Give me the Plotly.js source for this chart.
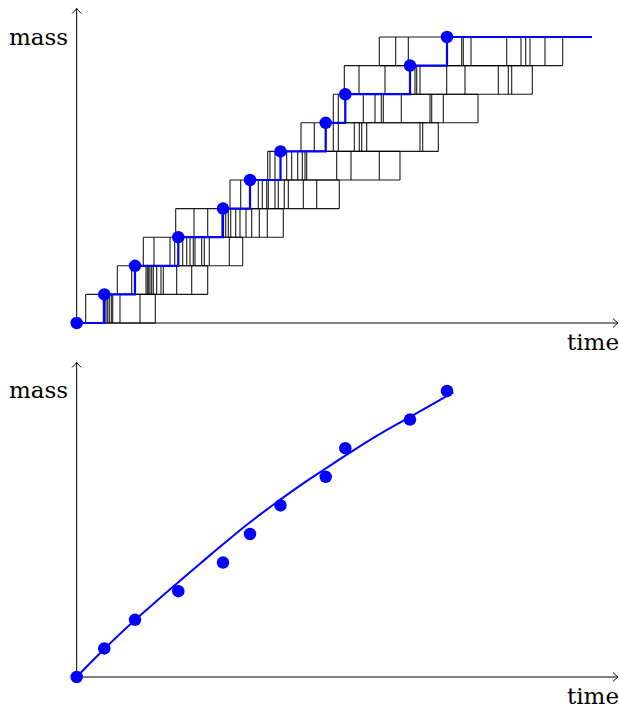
<!DOCTYPE html>
<html>
<head>
<meta charset="utf-8">
<script src="https://cdn.plot.ly/plotly-3.0.1.min.js"></script>
<style>html,body{margin:0;padding:0;background:#fff;}#chart{width:619px;height:711px;}</style>
</head>
<body>
<div id="chart"></div>
<script>
// ---- data ----
const massLevels = [0, 1, 2, 3, 4, 5, 6, 7, 8, 9, 10];
const jumpTimes  = [0, 2.76, 5.83, 10.16, 14.63, 17.33, 20.38, 24.90, 26.86, 33.33, 37.03];
const endTime = 51.53;

// smooth fitted curve (bottom panel)
const fitTime = [0, 2.76, 5.83, 8.33, 10.16, 12.33, 14.63, 17.33, 20.36, 22.66, 24.90, 26.86, 30.00, 33.26, 37.66];
const fitMass = [0, 0.98, 1.99, 2.76, 3.31, 3.96, 4.64, 5.41, 6.20, 6.77, 7.29, 7.74, 8.43, 9.08, 9.95];

// rectangle edge times for each mass row (row k spans mass k-1 .. k)
const row1  = [0.90, 2.66, 2.93, 3.10, 3.26, 3.46, 3.60, 4.33, 6.33, 7.86];
const row2  = [4.06, 5.50, 5.78, 6.93, 7.06, 7.20, 7.33, 7.50, 7.66, 8.00, 8.43, 8.66, 10.00, 11.50, 13.10];
const row3  = [6.66, 7.73, 9.33, 9.80, 10.18, 10.60, 11.00, 11.33, 11.66, 11.83, 12.50, 12.76, 13.26, 15.26, 16.60];
const row4  = [9.90, 11.73, 13.10, 14.53, 14.90, 15.16, 15.40, 15.90, 16.33, 16.93, 17.50, 18.26, 19.06, 20.66];
const row5  = [15.33, 16.40, 17.33, 18.16, 18.56, 19.00, 19.16, 19.83, 20.16, 20.76, 21.16, 22.66, 24.00, 26.26];
const row6  = [19.10, 19.33, 19.83, 20.38, 21.00, 21.50, 22.10, 22.56, 22.83, 23.00, 26.00, 27.43, 30.26, 32.33];
const row7  = [22.43, 23.76, 24.90, 25.66, 26.16, 27.76, 28.26, 28.50, 29.00, 34.33, 34.60, 36.16];
const row8  = [25.66, 26.16, 26.86, 28.66, 29.83, 30.46, 30.66, 32.46, 35.33, 35.50, 36.66, 40.13];
const row9  = [26.76, 28.23, 30.83, 33.33, 33.83, 34.00, 34.33, 37.00, 38.83, 42.16, 43.16, 43.50, 45.56];
const row10 = [30.26, 31.90, 33.16, 37.00, 38.50, 38.66, 39.43, 43.00, 44.43, 44.90, 45.33, 46.83, 48.60];
const rows = [row1, row2, row3, row4, row5, row6, row7, row8, row9, row10];

const axisTimeEnd = 54.13;
const axisMassEnd = 11.0;
const xLabel = 'time';
const yLabel = 'mass';

// ---- build rectangle outlines ----
const rx = [], ry = [];
rows.forEach((edges, i) => {
  const lo = massLevels[i], hi = massLevels[i + 1];
  const a = Math.min(...edges), b = Math.max(...edges);
  rx.push(a, b, null, a, b, null);
  ry.push(lo, lo, null, hi, hi, null);
  edges.forEach(e => { rx.push(e, e, null); ry.push(lo, hi, null); });
});

const blue = '#0000ff';
const traces = [
  {x: rx, y: ry, xaxis: 'x', yaxis: 'y', mode: 'lines', line: {color: 'rgba(0,0,0,0.9)', width: 1.1}, hoverinfo: 'skip'},
  {x: jumpTimes.concat([endTime]), y: massLevels.concat([massLevels[massLevels.length - 1]]),
   xaxis: 'x', yaxis: 'y', mode: 'lines', line: {color: blue, width: 2.2, shape: 'hv'}},
  {x: jumpTimes, y: massLevels, xaxis: 'x', yaxis: 'y', mode: 'markers', marker: {color: blue, size: 12.5}},
  {x: fitTime, y: fitMass, xaxis: 'x2', yaxis: 'y2', mode: 'lines', line: {color: blue, width: 2, shape: 'spline', smoothing: 1.3}},
  {x: jumpTimes, y: massLevels, xaxis: 'x2', yaxis: 'y2', mode: 'markers', marker: {color: blue, size: 12.5}}
];

function axisShapes(xr, yr) {
  const ln = {color: '#000', width: 1};
  return [
    {type: 'line', xref: xr, yref: yr, x0: 0, y0: 0, x1: axisTimeEnd, y1: 0, line: ln, layer: 'below'},
    {type: 'line', xref: xr, yref: yr, x0: 0, y0: 0, x1: 0, y1: axisMassEnd, line: ln, layer: 'below'},
    {type: 'path', xref: xr, yref: yr, xsizemode: 'pixel', ysizemode: 'pixel', xanchor: axisTimeEnd, yanchor: 0,
     path: 'M -5,4.5 Q -1.5,1 0,0 Q -1.5,-1 -5,-4.5', line: ln},
    {type: 'path', xref: xr, yref: yr, xsizemode: 'pixel', ysizemode: 'pixel', xanchor: 0, yanchor: axisMassEnd,
     path: 'M -4.5,-5 Q -1,-1.5 0,0 Q 1,-1.5 4.5,-5', line: ln}
  ];
}

const font = {family: 'DejaVu Serif', size: 23, color: '#000'};
const W = 619, H = 711;
const layout = {
  width: W, height: H,
  margin: {l: 0, r: 0, t: 0, b: 0},
  paper_bgcolor: '#fff', plot_bgcolor: 'rgba(0,0,0,0)',
  showlegend: false,
  xaxis:  {domain: [0, 1], range: [-7.67, 54.23], visible: false, fixedrange: true},
  yaxis:  {domain: [1 - 355 / H, 1], range: [-1.119, 11.294], visible: false, fixedrange: true},
  xaxis2: {domain: [0, 1], range: [-7.67, 54.23], visible: false, anchor: 'y2', fixedrange: true},
  yaxis2: {domain: [0, 355 / H], range: [-1.189, 11.224], visible: false, anchor: 'x2', fixedrange: true},
  shapes: axisShapes('x', 'y').concat(axisShapes('x2', 'y2')),
  annotations: [
    {xref: 'paper', yref: 'paper', x: 70 / W, y: 1 - 37 / H, xanchor: 'right', yanchor: 'middle', text: yLabel, showarrow: false, font: font},
    {xref: 'paper', yref: 'paper', x: 1.004, y: 1 - 342 / H, xanchor: 'right', yanchor: 'middle', text: xLabel, showarrow: false, font: font},
    {xref: 'paper', yref: 'paper', x: 70 / W, y: 1 - 390 / H, xanchor: 'right', yanchor: 'middle', text: yLabel, showarrow: false, font: font},
    {xref: 'paper', yref: 'paper', x: 1.004, y: 1 - 696 / H, xanchor: 'right', yanchor: 'middle', text: xLabel, showarrow: false, font: font}
  ]
};

Plotly.newPlot('chart', traces, layout, {staticPlot: true, displayModeBar: false});
</script>
</body>
</html>
